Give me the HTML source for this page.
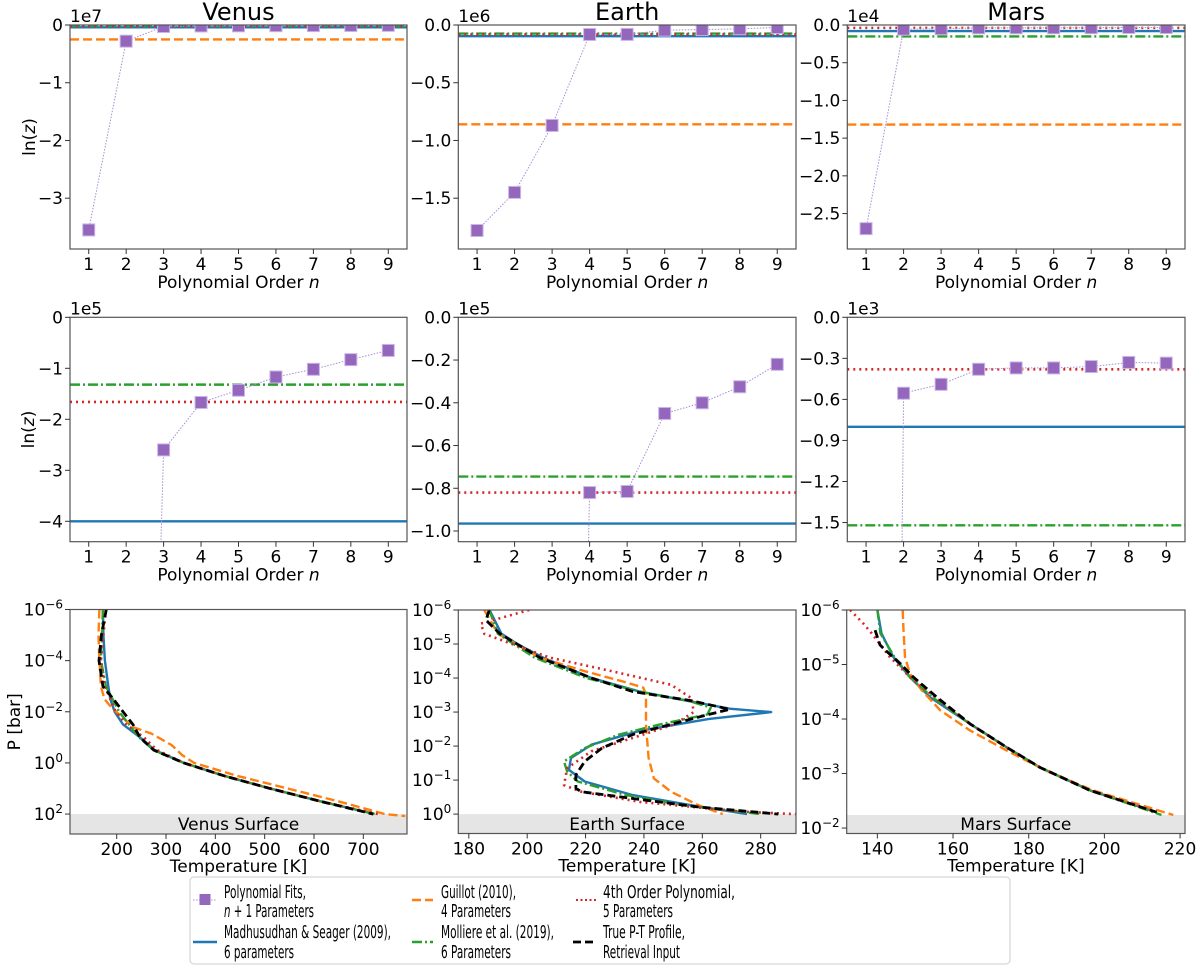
<!DOCTYPE html>
<html><head><meta charset="utf-8"><style>
html,body{margin:0;padding:0;background:#fff;width:1200px;height:971px;overflow:hidden;}
svg{display:block;font-family:"DejaVu Sans","Liberation Sans",sans-serif;overflow:hidden;}
</style></head><body>
<svg id="chart" width="1200" height="971" viewBox="0 0 1200 971" xmlns="http://www.w3.org/2000/svg"></svg>
<script>
// ---------- DATA ----------
const orders=[1,2,3,4,5,6,7,8,9];
const venusPoly=[-3.55e7,-2.8e6,-2.6e5,-1.67e5,-1.43e5,-1.17e5,-1.02e5,-0.83e5,-0.65e5];
const earthPoly=[-1.78e6,-1.45e6,-0.87e6,-0.82e5,-0.815e5,-0.45e5,-0.40e5,-0.325e5,-0.22e5];
const marsPoly=[-2.7e4,-555,-490,-380,-370,-370,-360,-330,-335];
// horizontal evidence lines: [guillot, madhusudhan, molliere, poly4]
const venusLines=[-2.5e6,-4.0e5,-1.32e5,-1.66e5];
const earthLines=[-0.86e6,-0.965e5,-0.745e5,-0.82e5];
const marsLines=[-1.32e4,-800,-1520,-380];

// P-T profiles (log10 P [bar], T [K])
const venusTrueP=[-6,-5,-4,-3,-2.5,-2,-1.5,-1,-0.5,0,0.5,1,1.5,2];
const venusTrueT=[179,169,164,172,193,213,233,247,275,336,417,511,613,720];
const venusMadP=[-6,-5,-4,-3,-2.5,-2,-1.5,-1,-0.5,0,0.5,1,1.5,2];
const venusMadT=[172,173,176,183,187,196,213,247,277,336,417,511,613,723];
const venusMolP=[-6,-4,-3,-2,-1,-0.5,0,0.5,1,1.5,2];
const venusMolT=[172,168,178,205,245,275,336,417,511,613,725];
const venusPolP=[-6,-4,-3,-2,-1.5,-1,-0.5,0,0.5,1,1.5,2];
const venusPolT=[178,168,176,198,220,255,282,336,417,511,613,730];
const venusGuiP=[-6,-5,-4,-3,-2.5,-2.2,-1.4,-1.15,-0.7,-0.3,0,0.5,1,1.5,2,2.08];
const venusGuiT=[165,163,165,168,175,188,233,270,311,333,357,443,547,649,744,785];

const earthTrueP=[-6,-5.7,-5.3,-4.6,-4,-3.6,-3.33,-3.08,-2.93,-2.64,-2.34,-1.94,-1.55,-1.15,-0.76,-0.66,-0.46,-0.21,0];
const earthTrueT=[187,185.9,190.7,204.3,222,236.2,256.4,269.4,262.3,249.3,236.2,225.6,219.7,216.7,216.7,218.5,236.2,258.7,286];
const earthMadP=[-6,-5.3,-5,-4.6,-4,-3.6,-3.4,-3.1,-3,-2.8,-2.45,-2.04,-1.65,-1.3,-0.96,-0.56,-0.26,0];
const earthMadT=[187.1,191.2,196.6,205.5,222,238.6,250.5,269.4,283.6,262.3,238.6,222,215,214.3,219.7,236.2,256.4,275.3];
const earthMolP=[-6,-5.3,-4.6,-4,-3.6,-3.33,-3.13,-2.93,-2.64,-2.34,-1.94,-1.55,-1.25,-0.96,-0.56,-0.26,0];
const earthMolT=[187,190,202.5,220.3,238.6,255.2,262.9,261.7,245.7,231.5,219.7,212.6,213.7,217.3,233.9,254,280];
const earthPolP=[-6,-5.6,-5.3,-5,-4.6,-4.2,-3.8,-3.4,-3,-2.64,-2.24,-1.85,-1.35,-0.85,-0.66,-0.36,-0.07,0];
const earthPolT=[200.7,184.1,185.3,194.8,207.8,229,249.3,256.4,257,250.5,236.2,222,213.7,212.6,218.5,238.6,274,291.9];
const earthGuiP=[-6,-5.3,-4.6,-4.2,-3.9,-3.72,-3.5,-2.6,-1.65,-1.05,-0.66,-0.26,0];
const earthGuiT=[185.3,190,204.3,219.7,232.7,239.8,240.7,240.7,241.6,243.4,249.3,258.7,267];

const marsTrueP=[-5.63,-5.36,-5.27,-5.02,-4.77,-4.4,-3.91,-3.48,-3.11,-2.69,-2.29];
const marsTrueT=[139.4,140.7,142,146,149.5,155.7,164.5,174.2,183,196.2,213.8];
const marsMadP=[-6,-5.57,-5.14,-4.77,-4.4,-3.91,-3.48,-3.11,-2.69,-2.29];
const marsMadT=[140,141.1,144.2,148.6,153.9,164.5,174.2,183,196.2,213.8];
const marsMolP=[-6,-5.57,-5.14,-4.77,-4.4,-3.91,-3.48,-3.11,-2.69,-2.24];
const marsMolT=[140,140.8,144.5,148.6,154.5,164.5,174.2,183,196.2,215.1];
const marsPolP=[-6,-5.75,-5.57,-5.14,-4.77,-4.4,-3.91,-3.48,-3.11,-2.69,-2.29];
const marsPolT=[132.8,136.3,138.5,143.3,148.6,155.2,164.5,174.2,183,196.2,213.8];
const marsGuiP=[-6,-5.63,-5.14,-4.83,-4.53,-4.16,-3.79,-3.42,-3.05,-2.69,-2.24];
const marsGuiT=[146.7,146.9,147.3,148.6,151.7,156.6,164.5,174.2,184.7,197,218.2];

const xTickOrders=[1,2,3,4,5,6,7,8,9];
const venusTTicks=[200,300,400,500,600,700];
const earthTTicks=[180,200,220,240,260,280];
const marsTTicks=[140,160,180,200,220];

// ---------- DRAWING ----------
const NS='http://www.w3.org/2000/svg';
const svg=document.getElementById('chart');
const C={blue:'#1f77b4',orange:'#ff7f0e',green:'#2ca02c',red:'#d62728',purple:'#9467bd',black:'#000'};
const FS=17;
let clipId=0;
function mk(tag,attrs,name,parent){
  const e=document.createElementNS(NS,tag);
  for(const k in attrs) e.setAttribute(k,attrs[k]);
  
  
  (parent||svg).appendChild(e);
  return e;
}
function txt(x,y,s,size,anchor,name,parent){
  const t=mk('text',{x:x,y:y,'font-size':size,'text-anchor':anchor||'middle',fill:'#000'},name,parent);
  t.textContent=s; return t;
}
const styles={
  guillot:{stroke:C.orange,'stroke-width':2.4,'stroke-dasharray':'9,4'},
  madhu:{stroke:C.blue,'stroke-width':2.4},
  molliere:{stroke:C.green,'stroke-width':2.4,'stroke-dasharray':'10,3,2,3'},
  poly4:{stroke:C.red,'stroke-width':2.6,'stroke-dasharray':'2,4'},
  truth:{stroke:C.black,'stroke-width':2.8,'stroke-dasharray':'8,4'}
};
function frameAndClip(L,R,T,B,name){
  const g=mk('g',{},name);
  clipId++;
  const cp=mk('clipPath',{id:'cp'+clipId},name+'-clip',g);
  mk('rect',{x:L,y:T,width:R-L,height:B-T},name+'-clip-rect',cp);
  const inner=mk('g',{'clip-path':'url(#cp'+clipId+')'},name+'-plot-area',g);
  return {g:g,inner:inner};
}
function drawFrame(g,L,R,T,B,name){
  mk('rect',{x:L,y:T,width:R-L,height:B-T,fill:'none',stroke:'#555','stroke-width':1.2},name+'-frame',g);
}
function evidencePanel(o){
  const {L,R,T,B,ymin,ymax,scale,yticks,ylabels,offset,poly,lines,name,title,ylabel}=o;
  const sx=v=>L+(v-0.5)/9*(R-L);
  const sy=v=>T+(ymax-v/scale)/(ymax-ymin)*(B-T);
  const p=frameAndClip(L,R,T,B,name);
  const keys=['guillot','madhu','molliere','poly4'];
  keys.forEach((k,i)=>{
    const a=Object.assign({x1:L,x2:R,y1:sy(lines[i]),y2:sy(lines[i]),fill:'none'},styles[k]);
    mk('line',a,name+'-'+k+'-line',p.inner);
  });
  let d='';
  orders.forEach((n,i)=>{d+=(i?'L':'M')+sx(n).toFixed(1)+','+sy(poly[i]).toFixed(1);});
  mk('path',{d:d,fill:'none',stroke:'#a98bd6','stroke-width':1,'stroke-dasharray':'1.5,1.5'},name+'-poly-line',p.inner);
  orders.forEach((n,i)=>{
    mk('rect',{x:sx(n)-6,y:sy(poly[i])-6,width:12,height:12,fill:C.purple,stroke:'#c9b6e8','stroke-width':1},name+'-poly-marker-'+n,p.inner);
  });
  drawFrame(p.g,L,R,T,B,name);
  yticks.forEach((v,i)=>{
    const y=T+(ymax-v)/(ymax-ymin)*(B-T);
    mk('line',{x1:L-5,x2:L,y1:y,y2:y,stroke:'#333','stroke-width':1},name+'-ytick',p.g);
    txt(L-7,y+6,ylabels[i],FS,'end',name+'-ytick-label',p.g);
  });
  xTickOrders.forEach(n=>{
    mk('line',{x1:sx(n),x2:sx(n),y1:B,y2:B+5,stroke:'#333','stroke-width':1},name+'-xtick',p.g);
    txt(sx(n),B+21,String(n),FS,'middle',name+'-xtick-label',p.g);
  });
  txt(L,T-3,offset,FS,'start',name+'-offset-text',p.g);
  const xl=txt((L+R)/2,B+39,'Polynomial Order ',FS,'middle',name+'-x-axis-title',p.g);
  const ts=document.createElementNS(NS,'tspan'); ts.setAttribute('font-style','italic'); ts.textContent='n'; xl.appendChild(ts);
  if(title) txt((L+R)/2,T-5,title,24,'middle',name+'-title',p.g);
  if(ylabel){
    const yl=txt(0,0,'ln(',FS,'middle',name+'-y-axis-title',p.g);
    yl.setAttribute('transform','translate('+ylabel+','+((T+B)/2)+') rotate(-90)');
    const z=document.createElementNS(NS,'tspan'); z.setAttribute('font-style','italic'); z.textContent='z'; yl.appendChild(z);
    const c=document.createElementNS(NS,'tspan'); c.textContent=')'; yl.appendChild(c);
  }
}
function ptPanel(o){
  const {L,R,T,B,tmin,tmax,pmin,pmax,surf,yticks,xticks,profiles,name,surfLabel,ylabel}=o;
  const sx=v=>L+(v-tmin)/(tmax-tmin)*(R-L);
  const sy=v=>T+(v-pmin)/(pmax-pmin)*(B-T);
  const p=frameAndClip(L,R,T,B,name);
  mk('rect',{x:L,y:sy(surf),width:R-L,height:B-sy(surf),fill:'#e5e5e5'},name+'-surface-band',p.inner);
  txt((L+R)/2,(sy(surf)+B)/2+6,surfLabel,FS,'middle',name+'-surface-label',p.inner);
  ['madhu','guillot','molliere','poly4','truth'].forEach(k=>{
    const pr=profiles[k];
    let d='';
    pr[0].forEach((lp,i)=>{d+=(i?'L':'M')+sx(pr[1][i]).toFixed(1)+','+sy(lp).toFixed(1);});
    const a=Object.assign({d:d,fill:'none','stroke-linejoin':'round'},styles[k]);
    mk('path',a,name+'-'+k+'-profile',p.inner);
  });
  drawFrame(p.g,L,R,T,B,name);
  yticks.forEach(v=>{
    const y=sy(v);
    mk('line',{x1:L-5,x2:L,y1:y,y2:y,stroke:'#333','stroke-width':1},name+'-ytick',p.g);
    const t=txt(L-7,y+6,'10',FS,'end',name+'-ytick-label',p.g);
    const s=document.createElementNS(NS,'tspan');
    s.setAttribute('dy','-7'); s.setAttribute('font-size','12');
    s.textContent=(v<0?'\u2212':'')+Math.abs(v); t.appendChild(s);
  });
  xticks.forEach(v=>{
    mk('line',{x1:sx(v),x2:sx(v),y1:B,y2:B+5,stroke:'#333','stroke-width':1},name+'-xtick',p.g);
    txt(sx(v),B+21,String(v),FS,'middle',name+'-xtick-label',p.g);
  });
  txt((L+R)/2,B+38,'Temperature [K]',FS,'middle',name+'-x-axis-title',p.g);
  if(ylabel){
    const yl=txt(0,0,'P [bar]',FS,'middle',name+'-y-axis-title',p.g);
    yl.setAttribute('transform','translate('+ylabel+','+((T+B)/2)+') rotate(-90)');
  }
}
const M='\u2212';
const colL=[70,458.3,847.3], colR=[407,796,1185];
// Row 1
evidencePanel({L:colL[0],R:colR[0],T:25,B:249,ymin:-3.88,ymax:0,scale:1e7,yticks:[0,-1,-2,-3],ylabels:['0',M+'1',M+'2',M+'3'],offset:'1e7',poly:venusPoly,lines:venusLines,name:'venus-evidence-full',title:'Venus',ylabel:35});
evidencePanel({L:colL[1],R:colR[1],T:25,B:249,ymin:-1.94,ymax:0,scale:1e6,yticks:[0,-0.5,-1,-1.5],ylabels:['0.0',M+'0.5',M+'1.0',M+'1.5'],offset:'1e6',poly:earthPoly,lines:earthLines,name:'earth-evidence-full',title:'Earth'});
evidencePanel({L:colL[2],R:colR[2],T:25,B:249,ymin:-2.97,ymax:0,scale:1e4,yticks:[0,-0.5,-1,-1.5,-2,-2.5],ylabels:['0.0',M+'0.5',M+'1.0',M+'1.5',M+'2.0',M+'2.5'],offset:'1e4',poly:marsPoly,lines:marsLines,name:'mars-evidence-full',title:'Mars'});
// Row 2
evidencePanel({L:colL[0],R:colR[0],T:317.3,B:541.7,ymin:-4.4,ymax:0,scale:1e5,yticks:[0,-1,-2,-3,-4],ylabels:['0',M+'1',M+'2',M+'3',M+'4'],offset:'1e5',poly:venusPoly,lines:venusLines,name:'venus-evidence-zoom',ylabel:34});
evidencePanel({L:colL[1],R:colR[1],T:317.3,B:541.7,ymin:-1.05,ymax:0,scale:1e5,yticks:[0,-0.2,-0.4,-0.6,-0.8,-1.0],ylabels:['0.0',M+'0.2',M+'0.4',M+'0.6',M+'0.8',M+'1.0'],offset:'1e5',poly:earthPoly,lines:earthLines,name:'earth-evidence-zoom'});
evidencePanel({L:colL[2],R:colR[2],T:317.3,B:541.7,ymin:-1.64,ymax:0,scale:1e3,yticks:[0,-0.3,-0.6,-0.9,-1.2,-1.5],ylabels:['0.0',M+'0.3',M+'0.6',M+'0.9',M+'1.2',M+'1.5'],offset:'1e3',poly:marsPoly,lines:marsLines,name:'mars-evidence-zoom'});
// Row 3
ptPanel({L:colL[0],R:colR[0],T:609.5,B:834,tmin:105.3,tmax:788.6,pmin:-6,pmax:2.78,surf:2,yticks:[-6,-4,-2,0,2],xticks:venusTTicks,name:'venus-pt-profile',surfLabel:'Venus Surface',ylabel:20,
  profiles:{truth:[venusTrueP,venusTrueT],madhu:[venusMadP,venusMadT],molliere:[venusMolP,venusMolT],poly4:[venusPolP,venusPolT],guillot:[venusGuiP,venusGuiT]}});
ptPanel({L:458.3,R:796,T:610,B:833.5,tmin:176.4,tmax:292.1,pmin:-6,pmax:0.57,surf:0,yticks:[-6,-5,-4,-3,-2,-1,0],xticks:earthTTicks,name:'earth-pt-profile',surfLabel:'Earth Surface',
  profiles:{truth:[earthTrueP,earthTrueT],madhu:[earthMadP,earthMadT],molliere:[earthMolP,earthMolT],poly4:[earthPolP,earthPolT],guillot:[earthGuiP,earthGuiT]}});
ptPanel({L:846.7,R:1185,T:610,B:833.5,tmin:131.9,tmax:221.3,pmin:-6,pmax:-1.9,surf:-2.24,yticks:[-6,-5,-4,-3,-2],xticks:marsTTicks,name:'mars-pt-profile',surfLabel:'Mars Surface',
  profiles:{truth:[marsTrueP,marsTrueT],madhu:[marsMadP,marsMadT],molliere:[marsMolP,marsMolT],poly4:[marsPolP,marsPolT],guillot:[marsGuiP,marsGuiT]}});

// ---------- LEGEND ----------
const lg=mk('g',{},'legend');
mk('rect',{x:190,y:877,width:820,height:87,rx:4,fill:'#fff',stroke:'#ccc','stroke-width':1},'legend-box',lg);
function ltext(x,y,s,w,name){
  const t=txt(x,y,s,18,'start',name,lg);
  t.setAttribute('textLength',w); t.setAttribute('lengthAdjust','spacingAndGlyphs'); return t;
}
mk('line',{x1:193,x2:216,y1:900,y2:900,stroke:'#a98bd6','stroke-width':1,'stroke-dasharray':'1.5,1.5'},'legend-poly-line',lg);
mk('rect',{x:199.5,y:894,width:11,height:11,fill:C.purple},'legend-poly-marker',lg);
ltext(224,898,'Polynomial Fits,',82,'legend-poly-text');
const t2=ltext(224,917,'',90,'legend-poly-text-2');
const ti=document.createElementNS(NS,'tspan'); ti.setAttribute('font-style','italic'); ti.textContent='n'; t2.appendChild(ti);
const tr=document.createElementNS(NS,'tspan'); tr.textContent=' + 1 Parameters'; t2.appendChild(tr);
mk('line',Object.assign({x1:412,x2:433,y1:900,y2:900},styles.guillot),'legend-guillot-line',lg);
ltext(441,898,'Guillot (2010),',75,'legend-guillot-text');
ltext(441,917,'4 Parameters',70,'legend-guillot-text-2');
mk('line',Object.assign({x1:576,x2:596,y1:900,y2:900},styles.poly4,{'stroke-width':2,'stroke-dasharray':'2,2.5'}),'legend-poly4-line',lg);
ltext(603,898,'4th Order Polynomial,',132,'legend-poly4-text');
ltext(603,917,'5 Parameters',70,'legend-poly4-text-2');
mk('line',Object.assign({x1:193,x2:217,y1:942,y2:942},styles.madhu),'legend-madhu-line',lg);
ltext(224,938,'Madhusudhan & Seager (2009),',167,'legend-madhu-text');
ltext(224,958,'6 parameters',70,'legend-madhu-text-2');
mk('line',Object.assign({x1:412,x2:433,y1:942,y2:942},styles.molliere),'legend-molliere-line',lg);
ltext(441,938,'Molliere et al. (2019),',113,'legend-molliere-text');
ltext(441,958,'6 Parameters',70,'legend-molliere-text-2');
mk('line',Object.assign({x1:573,x2:596,y1:942,y2:942},styles.truth),'legend-true-line',lg);
ltext(603,938,'True P-T Profile,',82,'legend-true-text');
ltext(603,958,'Retrieval Input',77,'legend-true-text-2');
</script>
</body></html>
